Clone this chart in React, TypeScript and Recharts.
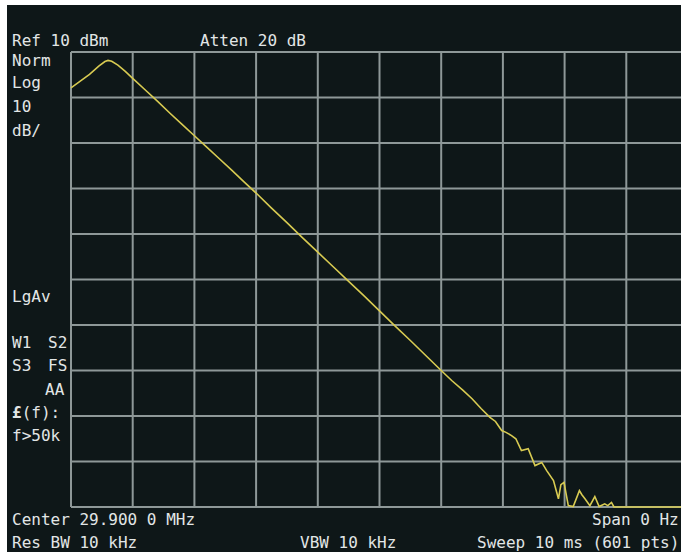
import React from "react";
import { LineChart, Line, XAxis, YAxis, CartesianGrid } from "recharts";

// Sweep time (ms) and measured trace level (dBm)
const sweepTimeMs = [
  0, 0.15, 0.3, 0.45, 0.55, 0.6, 0.66, 0.76, 0.88, 1.0, 1.2, 1.4, 1.6, 1.8, 2.0,
  2.2, 2.4, 2.6, 2.8, 3.0, 3.25, 3.5, 3.75, 4.0, 4.25, 4.5, 4.75, 5.0, 5.25, 5.5,
  5.75, 6.0, 6.17, 6.35, 6.5, 6.65, 6.79, 6.88, 6.98, 7.05, 7.14, 7.21, 7.3, 7.41,
  7.52, 7.63, 7.71, 7.82, 7.9, 7.94, 7.99, 8.06, 8.14, 8.24, 8.28, 8.33, 8.41,
  8.49, 8.56, 8.65, 8.7, 8.76, 8.8, 10.0,
];
const traceLevelDbm = [
  2.1, 3.6, 5.1, 6.9, 7.9, 8.15, 7.95, 7.1, 5.75, 4.2, 1.7, -0.8, -3.4, -5.9, -8.4,
  -10.9, -13.4, -15.9, -18.5, -21.0, -24.3, -27.5, -30.8, -34.0, -37.2, -40.4,
  -43.6, -46.9, -50.2, -53.4, -56.7, -60.0, -62.2, -64.3, -66.2, -68.4, -70.3,
  -71.2, -73.2, -73.6, -74.3, -75.0, -77.6, -77.2, -80.9, -80.2, -82.0, -84.2,
  -88.2, -85.1, -84.6, -89.7, -89.9, -86.4, -87.3, -88.2, -89.7, -87.7, -89.9,
  -89.3, -89.7, -89.0, -90, -90,
];

const xTicks = [0, 1, 2, 3, 4, 5, 6, 7, 8, 9, 10];
const yTicks = [-90, -80, -70, -60, -50, -40, -30, -20, -10, 0, 10];

const leftLabels = [
  { text: "Norm", x: 5, y: 61 },
  { text: "Log", x: 5, y: 83 },
  { text: "10", x: 5, y: 107 },
  { text: "dB/", x: 5, y: 131 },
  { text: "LgAv", x: 5, y: 297 },
  { text: "W1", x: 5, y: 343 },
  { text: "S2", x: 41, y: 343 },
  { text: "S3", x: 5, y: 366 },
  { text: "FS", x: 41, y: 366 },
  { text: "AA", x: 38, y: 390 },
  { text: "f>50k", x: 5, y: 436 },
];
const headerLabels = [
  { text: "Ref 10 dBm", x: 5, y: 41 },
  { text: "Atten 20 dB", x: 193, y: 41 },
];
const footerLabels = [
  { text: "Center 29.900 0 MHz", x: 5, y: 520 },
  { text: "Span 0 Hz", x: 585, y: 520 },
  { text: "Res BW 10 kHz", x: 5, y: 543 },
  { text: "VBW 10 kHz", x: 293, y: 543 },
  { text: "Sweep 10 ms (601 pts)", x: 470, y: 543 },
];

const data = sweepTimeMs.map((t, i) => ({ t, level: traceLevelDbm[i] }));

const BG = "#0e1718";
const GRID = "#8e9898";
const TEXT = "#e2e6e6";
const TRACE = "#d8cb52";
const FONT = "'DejaVu Sans Mono', 'Liberation Mono', monospace";

export default function App() {
  const allLabels = [...headerLabels, ...leftLabels, ...footerLabels];
  return (
    <div
      style={{
        position: "absolute",
        left: 7,
        top: 5,
        width: 674,
        height: 547,
        overflow: "hidden",
        background: BG,
      }}
    >
      <LineChart
        width={700}
        height={547}
        data={data}
        margin={{ top: 47, right: 19, bottom: 45, left: 64 }}
      >
        <CartesianGrid stroke={GRID} strokeWidth={2} />
        <XAxis dataKey="t" type="number" domain={[0, 10]} ticks={xTicks} hide />
        <YAxis type="number" domain={[-90, 10]} ticks={yTicks} hide />
        <Line
          type="linear"
          dataKey="level"
          stroke={TRACE}
          strokeWidth={1.6}
          dot={false}
          isAnimationActive={false}
        />
      </LineChart>
      <svg
        width={674}
        height={547}
        style={{ position: "absolute", left: 0, top: 0, pointerEvents: "none" }}
      >
        {allLabels.map((l) => (
          <text
            key={l.text + l.x + l.y}
            x={l.x}
            y={l.y}
            fill={TEXT}
            fontFamily={FONT}
            fontSize={16}
          >
            {l.text}
          </text>
        ))}
        <text x={5} y={413} fill={TEXT} fontFamily={FONT} fontSize={16}>
          <tspan fontWeight="bold">£</tspan>(f):
        </text>
      </svg>
    </div>
  );
}
